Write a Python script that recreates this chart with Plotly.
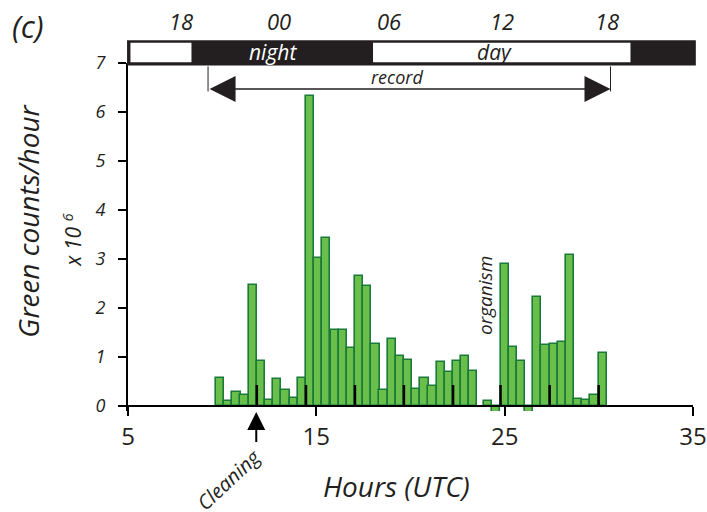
import plotly.graph_objects as go

# ---------------- data ----------------
# bar centres (hours UTC) and green counts/hour (x 10^6)
hours_a = [9.89, 10.32, 10.76, 11.19, 11.63, 12.06, 12.49, 12.93, 13.36, 13.80,
           14.23, 14.66, 15.10, 15.53, 15.97, 16.40, 16.83, 17.27, 17.70, 18.14,
           18.57, 19.00, 19.44, 19.87, 20.31, 20.74, 21.17, 21.61, 22.04, 22.48,
           22.91, 23.34]
counts_a = [0.57, 0.10, 0.29, 0.22, 2.47, 0.92, 0.13, 0.55, 0.32, 0.16,
            0.57, 6.33, 3.03, 3.42, 1.55, 1.55, 1.19, 2.65, 2.45, 1.26,
            0.33, 1.37, 1.03, 0.95, 0.35, 0.57, 0.42, 0.90, 0.70, 0.93,
            1.03, 0.72]
hours_b = [24.13, 24.56, 25.00, 25.43, 25.87, 26.30, 26.73, 27.17, 27.60, 28.04,
           28.47, 28.90, 29.34, 29.77, 30.21]
counts_b = [0.10, -0.15, 2.90, 1.21, 0.92, -0.29, 2.23, 1.25, 1.27, 1.30,
            3.09, 0.15, 0.12, 0.22, 1.09]
bin_width = 0.434

# black marker ticks (hours) and their height
mark_hours = [11.84, 14.45, 17.05, 19.65, 22.26, 24.78, 27.39, 29.99]
mark_height = 0.43

# local-time labels on top and their positions (hours UTC)
local_labels = ["18", "00", "06", "12", "18"]
local_hours = [7.80, 13.02, 18.86, 24.86, 30.41]

# day/night band limits (hours UTC)
band_start, band_end = 4.95, 35.15
day_periods = [(5.13, 8.37), (18.01, 31.68)]
record_start, record_end = 9.25, 30.62
cleaning_hour = 11.81

x_ticks = [5, 15, 25, 35]
y_ticks = [0, 1, 2, 3, 4, 5, 6, 7]

# ---------------- style ----------------
FONT = "Open Sans, Noto Sans, sans-serif"
TXT = "#231f20"
FILL = "#6abf4b"
EDGE = "#1a7a3a"

W, H = 707, 512
ML, MR, MT, MB = 128.3, 13.8, 63.4, 101.4
YMIN, YMAX = -0.1, 7
PW = W - ML - MR
PH = H - MT - MB


def hx(h):
    return (h - 5) / 30.0


def px(p):
    return (p - ML) / PW


def py(p):
    return (H - MB - p) / PH


def font(size, color=TXT, italic=True):
    d = dict(family=FONT, size=size, color=color)
    if italic:
        d["style"] = "italic"
    return d


fig = go.Figure()

fig.add_trace(go.Bar(
    x=hours_a + hours_b, y=counts_a + counts_b, width=bin_width,
    marker=dict(color=FILL, line=dict(color=EDGE, width=1.6)),
    cliponaxis=False, showlegend=False, hoverinfo="x+y"))

mx, my = [], []
for h in mark_hours:
    mx += [h, h, None]
    my += [0, mark_height, None]
fig.add_trace(go.Scatter(x=mx, y=my, mode="lines",
                         line=dict(color="black", width=2.5),
                         showlegend=False, hoverinfo="skip"))

shapes = []
# day/night band
shapes.append(dict(type="rect", xref="paper", yref="paper",
                   x0=hx(band_start), x1=hx(band_end), y0=py(66), y1=py(40.7),
                   fillcolor="#231f20", line=dict(width=0), layer="above"))
for a, b in day_periods:
    shapes.append(dict(type="rect", xref="paper", yref="paper",
                       x0=hx(a), x1=hx(b), y0=py(62.7), y1=py(43.3),
                       fillcolor="white", line=dict(width=0), layer="above"))
# record limits
for h in (record_start, record_end):
    shapes.append(dict(type="line", xref="x", yref="y", x0=h, x1=h,
                       y0=6.42, y1=6.93, line=dict(color="#231f20", width=1)))

C = dict(xanchor="center", yanchor="middle", showarrow=False)
ann = []
ann.append(dict(x=record_end, y=6.47, ax=record_start, ay=6.47,
                xref="x", yref="y", axref="x", ayref="y", text="",
                showarrow=True, arrowhead=2, startarrowhead=2,
                arrowside="end+start", arrowsize=4, startarrowsize=4,
                arrowwidth=1.3, arrowcolor="#231f20",
                standoff=0, startstandoff=0))
ann.append(dict(x=19.27, y=6.72, xref="x", yref="y", text="record",
                font=font(18), **C))
ann.append(dict(x=px(273), y=py(52), xref="paper", yref="paper", text="night",
                font=font(21, "white"), **C))
ann.append(dict(x=px(495), y=py(52), xref="paper", yref="paper", text="day",
                font=font(21), **C))
for lab, h in zip(local_labels, local_hours):
    ann.append(dict(x=h, y=py(21.7), xref="x", yref="paper", text=lab,
                    font=font(22), **C))
ann.append(dict(x=px(28), y=py(26), xref="paper", yref="paper",
                text="(c)", font=font(31), **C))
# cleaning arrow
ann.append(dict(x=cleaning_hour, y=py(411.7), ax=0, ay=31.5,
                xref="x", yref="paper", text="",
                showarrow=True, arrowhead=2, arrowsize=1.8, arrowwidth=2,
                arrowcolor="black", standoff=0))
ann.append(dict(x=px(229), y=py(479), xref="paper", yref="paper", text="Cleaning",
                textangle=-43, font=font(20), **C))
ann.append(dict(x=23.99, y=2.26, xref="x", yref="y", text="organism",
                textangle=-90, font=font(19), **C))
# axis titles
ann.append(dict(x=px(397), y=py(485), xref="paper", yref="paper",
                text="Hours (UTC)", font=font(28), **C))
ann.append(dict(x=px(28), y=py(221), xref="paper", yref="paper",
                text="Green counts/hour", textangle=-90, font=font(28), **C))
ann.append(dict(x=px(72), y=py(240), xref="paper", yref="paper",
                text="x 10 <sup>6</sup>", textangle=-90, font=font(21), **C))

fig.update_layout(
    width=W, height=H,
    margin=dict(l=ML, r=MR, t=MT, b=MB, pad=0, autoexpand=False),
    plot_bgcolor="white", paper_bgcolor="white",
    shapes=shapes, annotations=ann, bargap=0,
    xaxis=dict(range=[5, 35], tickvals=x_ticks, ticktext=[str(v) for v in x_ticks],
               showgrid=False, zeroline=False, showline=True, linecolor="black",
               linewidth=2, ticks="outside", ticklen=9, tickwidth=2, tickcolor="black",
               tickfont=font(24, italic=False), automargin=False,
               anchor="free", position=(0 - YMIN) / (YMAX - YMIN)),
    yaxis=dict(range=[YMIN, YMAX], tickvals=y_ticks, ticktext=[str(v) for v in y_ticks],
               showgrid=False, zeroline=False, showline=True, linecolor="black",
               linewidth=2, ticks="outside", ticklen=8, tickwidth=2, tickcolor="black",
               tickfont=font(18), automargin=False, ticklabelstandoff=9),
)

fig.write_html("out.html")
